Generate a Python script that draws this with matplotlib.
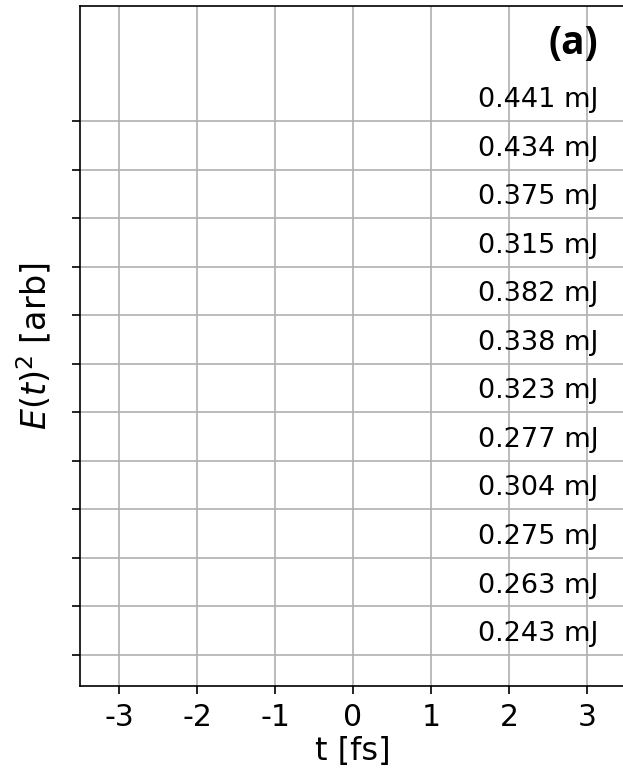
import matplotlib
matplotlib.use("Agg")
import matplotlib.pyplot as plt
import numpy as np

plt.rcParams["font.family"] = ["DejaVu Sans"]
plt.rcParams["axes.unicode_minus"] = False

# pulse energies, top to bottom
energies = [0.441, 0.434, 0.375, 0.315, 0.382, 0.338,
            0.323, 0.277, 0.304, 0.275, 0.263, 0.243]
xticks = [-3, -2, -1, 0, 1, 2, 3]
panel = "(a)"

fig = plt.figure(figsize=(6.23, 7.71), dpi=100)
ax = fig.add_axes([0.1284, 0.1102, 0.8764, 0.882])

n = len(energies)
offsets = np.arange(n)[::-1]  # first energy at the top
for off, e in zip(offsets, energies):
    ax.text(3.15, off + 0.43, f"{e:.3f} mJ", ha="right", va="center", fontsize=19.5)

ax.text(3.14, 12.6, panel, ha="right", va="center", fontsize=28,
        fontweight="bold", family=["Open Sans", "DejaVu Sans"])

ax.set_xlim(-3.5, 3.5)
ax.set_ylim(-0.64, 13.37)
ax.set_xticks(xticks)
ax.set_xticklabels([str(t) for t in xticks])
ax.set_yticks(np.arange(n))
ax.set_yticklabels([])
ax.tick_params(length=6, width=1.2, labelsize=21.5, pad=6)
ax.grid(True, color="#b0b0b0", lw=1.2)
for s in ax.spines.values():
    s.set_linewidth(1.2)

ax.set_xlabel("t [fs]", fontsize=23, labelpad=3)
ax.set_ylabel(r"$E(t)^2$ [arb]", fontsize=24, labelpad=7)

fig.savefig("out.png", dpi=100)
